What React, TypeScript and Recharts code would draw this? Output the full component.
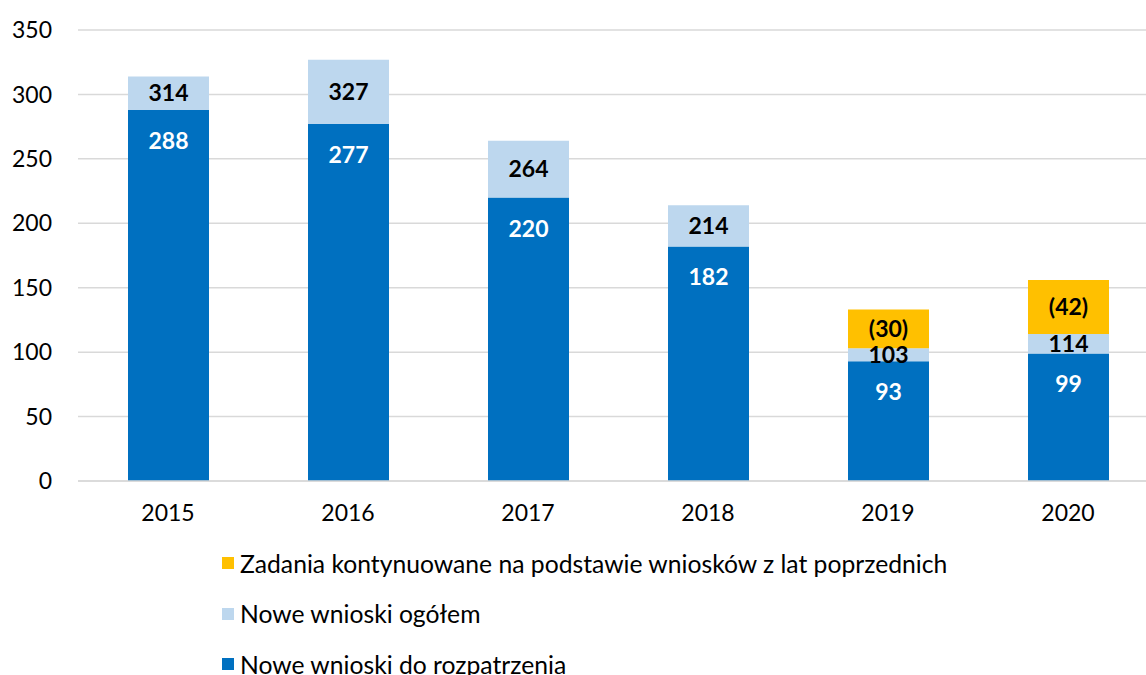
import { BarChart, Bar, XAxis, YAxis, CartesianGrid, LabelList } from "recharts";

const years = ["2015", "2016", "2017", "2018", "2019", "2020"];
const doRozpatrzenia = [288, 277, 220, 182, 93, 99];
const ogolem = [314, 327, 264, 214, 103, 114];
const kontynuowane: (number | null)[] = [null, null, null, null, 30, 42];
const yTicks = [0, 50, 100, 150, 200, 250, 300, 350];

const legendItems = [
  { label: "Zadania kontynuowane na podstawie wniosków z lat poprzednich", color: "#FFC000" },
  { label: "Nowe wnioski ogółem", color: "#BDD7EE" },
  { label: "Nowe wnioski do rozpatrzenia", color: "#0070C0" },
];

const FONT = "Lato, 'Noto Sans', sans-serif";

// light segment sits on top of the dark one, so it carries only the difference
const data = years.map((year, i) => ({
  year,
  base: doRozpatrzenia[i],
  rest: ogolem[i] - doRozpatrzenia[i],
  total: ogolem[i],
  cont: kontynuowane[i],
}));

function BaseLabel(props: any) {
  const { x, y, width, value } = props;
  return (
    <text
      x={x + width / 2}
      y={y + 30}
      textAnchor="middle"
      dominantBaseline="central"
      fill="#ffffff"
      fontWeight={700}
      fontSize={23}
      fontFamily={FONT}
    >
      {value}
    </text>
  );
}

export default function App() {
  return (
    <div
      style={{
        position: "absolute",
        top: 0,
        left: 0,
        width: 1146,
        height: 675,
        overflow: "hidden",
        background: "#ffffff",
        fontFamily: FONT,
      }}
    >
      <BarChart
        width={1160}
        height={540}
        data={data}
        margin={{ top: 30, right: 2, left: 0, bottom: 0 }}
        barSize={81}
      >
        <CartesianGrid vertical={false} stroke="#D9D9D9" strokeWidth={1.5} />
        <XAxis
          dataKey="year"
          height={59}
          axisLine={{ stroke: "#D9D9D9", strokeWidth: 1.5 }}
          tickLine={false}
          tickSize={0}
          tickMargin={24}
          tick={{ fill: "#000000", fontSize: 23, fontFamily: FONT }}
        />
        <YAxis
          width={78}
          domain={[0, 350]}
          ticks={yTicks}
          axisLine={false}
          tickLine={false}
          tickSize={0}
          tickMargin={26}
          tick={{ fill: "#000000", fontSize: 23, fontFamily: FONT }}
        />
        <Bar dataKey="base" stackId="a" fill="#0070C0" isAnimationActive={false}>
          <LabelList dataKey="base" content={<BaseLabel />} />
        </Bar>
        <Bar dataKey="rest" stackId="a" fill="#BDD7EE" isAnimationActive={false}>
          <LabelList
            dataKey="total"
            position="center"
            fill="#000000"
            fontWeight={700}
            fontSize={23}
            fontFamily={FONT}
          />
        </Bar>
        <Bar dataKey="cont" stackId="a" fill="#FFC000" isAnimationActive={false}>
          <LabelList
            dataKey="cont"
            position="center"
            formatter={(v: any) => (v == null ? "" : `(${v})`)}
            fill="#000000"
            fontWeight={700}
            fontSize={23}
            fontFamily={FONT}
          />
        </Bar>
      </BarChart>
      <div style={{ position: "absolute", left: 222, top: 538 }}>
        {legendItems.map((item) => (
          <div
            key={item.label}
            style={{ display: "flex", alignItems: "center", height: 50.5, fontSize: 24.7, color: "#000", whiteSpace: "nowrap" }}
          >
            <span
              style={{ display: "inline-block", width: 12, height: 12, background: item.color, marginRight: 6 }}
            />
            <span>{item.label}</span>
          </div>
        ))}
      </div>
    </div>
  );
}
